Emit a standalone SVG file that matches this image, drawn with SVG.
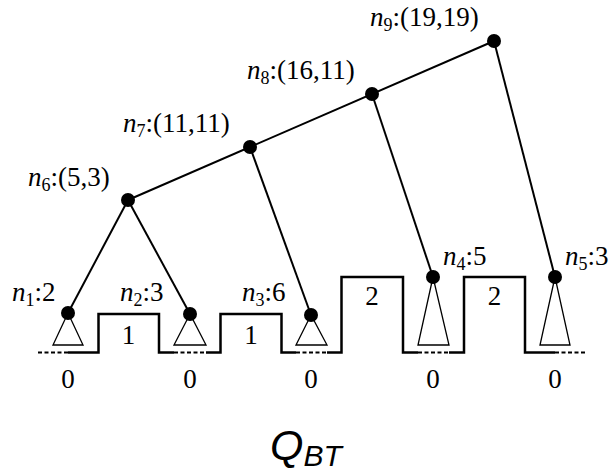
<svg xmlns="http://www.w3.org/2000/svg" width="616" height="472" viewBox="0 0 616 472">
<style>
  .lbl { font-family: "Liberation Serif", "DejaVu Serif", serif; font-size: 27px; fill: #000; }
  .it { font-style: italic; }
  .sub { font-size: 18px; }
  .edge { stroke: #000; stroke-width: 2; fill: none; }
  .dot { fill: #000; }
  .tri { fill: #fff; stroke: #000; stroke-width: 1.3; }
  .prof { stroke: #000; stroke-width: 2.5; fill: none; }
  .dash { stroke: #000; stroke-width: 1.8; fill: none; stroke-dasharray: 4 2.5; }
  .num { font-family: "Liberation Serif", "DejaVu Serif", serif; font-size: 27px; text-anchor: middle; }
</style>
<rect width="616" height="472" fill="#fff"/>
<g id="profile">
  <path class="prof" d="M68,352.5 H98.5 V314 H159 V352.5 H174 M206,352.5 H220.5 V314 H281.5 V352.5 H296 M327,352.5 H341.5 V277 H403 V352.5 H418 M449,352.5 H464 V277 H525 V352.5 H555"/>
  <path class="dash" d="M38,352.5 H68 M174,352.5 H206 M296,352.5 H327 M418,352.5 H449 M555,352.5 H586"/>
  <g class="num">
    <text x="68" y="388">0</text>
    <text x="190" y="388">0</text>
    <text x="311" y="388">0</text>
    <text x="433" y="388">0</text>
    <text x="555" y="388">0</text>
    <text x="128.5" y="344">1</text>
    <text x="251" y="344">1</text>
    <text x="372" y="305">2</text>
    <text x="494.5" y="305">2</text>
  </g>
</g>
<g id="connectors">
  <line class="edge" x1="128" y1="200" x2="68" y2="313"/>
  <line class="edge" x1="128" y1="200" x2="190" y2="314"/>
  <line class="edge" x1="128" y1="200" x2="494" y2="41"/>
  <line class="edge" x1="250" y1="147" x2="311" y2="315"/>
  <line class="edge" x1="372" y1="94" x2="433" y2="277"/>
  <line class="edge" x1="494" y1="41" x2="555" y2="277"/>
</g>
<g id="n1">
  <polygon class="tri" points="68,313 53,345 83,345"/>
  <circle class="dot" cx="68" cy="313" r="7"/>
  <text class="lbl" x="12" y="301"><tspan class="it">n</tspan><tspan class="sub" dy="5">1</tspan><tspan dy="-5">:2</tspan></text>
</g>
<g id="n2">
  <polygon class="tri" points="190,314 174,345 206,345"/>
  <circle class="dot" cx="190" cy="314" r="7"/>
  <text class="lbl" x="120" y="301"><tspan class="it">n</tspan><tspan class="sub" dy="5">2</tspan><tspan dy="-5">:3</tspan></text>
</g>
<g id="n3">
  <polygon class="tri" points="311,315 296,345 327,345"/>
  <circle class="dot" cx="311" cy="315" r="7"/>
  <text class="lbl" x="242" y="301"><tspan class="it">n</tspan><tspan class="sub" dy="5">3</tspan><tspan dy="-5">:6</tspan></text>
</g>
<g id="n4">
  <polygon class="tri" points="433,277 418,345 449,345"/>
  <circle class="dot" cx="433" cy="277" r="7"/>
  <text class="lbl" x="443" y="265"><tspan class="it">n</tspan><tspan class="sub" dy="5">4</tspan><tspan dy="-5">:5</tspan></text>
</g>
<g id="n5">
  <polygon class="tri" points="555,277 540,345 570,345"/>
  <circle class="dot" cx="555" cy="277" r="7"/>
  <text class="lbl" x="565" y="265"><tspan class="it">n</tspan><tspan class="sub" dy="5">5</tspan><tspan dy="-5">:3</tspan></text>
</g>
<g id="n6">
  <circle class="dot" cx="128" cy="200" r="7"/>
  <text class="lbl" x="28" y="186"><tspan class="it">n</tspan><tspan class="sub" dy="5">6</tspan><tspan dy="-5">:(5,3)</tspan></text>
</g>
<g id="n7">
  <circle class="dot" cx="250" cy="147" r="7"/>
  <text class="lbl" x="123" y="132"><tspan class="it">n</tspan><tspan class="sub" dy="5">7</tspan><tspan dy="-5">:(11,11)</tspan></text>
</g>
<g id="n8">
  <circle class="dot" cx="372" cy="94" r="7"/>
  <text class="lbl" x="247" y="79"><tspan class="it">n</tspan><tspan class="sub" dy="5">8</tspan><tspan dy="-5">:(16,11)</tspan></text>
</g>
<g id="n9">
  <circle class="dot" cx="494" cy="41" r="7"/>
  <text class="lbl" x="370" y="26"><tspan class="it">n</tspan><tspan class="sub" dy="5">9</tspan><tspan dy="-5">:(19,19)</tspan></text>
</g>
<g id="title">
  <text x="270" y="460" font-family="Liberation Sans, Arial, sans-serif" font-style="italic" font-size="43"><tspan>Q</tspan><tspan font-size="30" dy="6">BT</tspan></text>
</g>
</svg>
